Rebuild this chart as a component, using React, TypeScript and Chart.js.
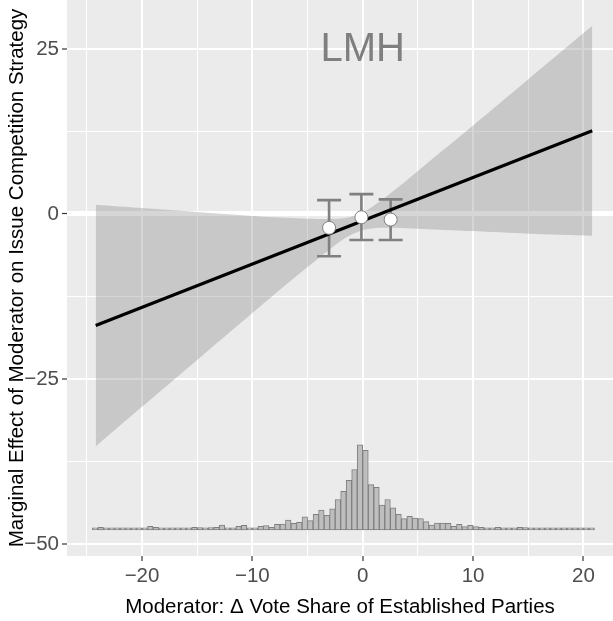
import React, { useEffect, useRef } from "react";
import { Chart, registerables } from "chart.js";

Chart.register(...registerables);

// Fitted marginal-effect line (linear estimator)
const lineX = [-24.2, 20.8];
const lineY = [-16.9, 12.6];

// Confidence band around the line
const bandX = [-24.2, -20, -15, -10, -6, -4, -2, -1, 0, 1, 2, 4, 6, 10, 15, 20.8];
const bandUpper = [1.4, 0.9, 0.3, -0.3, -0.65, -0.75, -0.7, -0.4, 0.25, 1.25, 2.45, 5.1, 7.9, 13.4, 20.4, 28.5];
const bandLower = [-35.2, -29.2, -22.1, -15.0, -9.4, -6.7, -4.1, -3.1, -2.45, -2.15, -2.1, -2.15, -2.3, -2.6, -3.0, -3.3];

// Binning estimates (L, M, H)
const binX = [-3.05, -0.12, 2.53];
const binY = [-2.1, -0.5, -0.85];
const binLow = [-6.4, -3.95, -3.95];
const binHigh = [2.1, 3.0, 2.2];

// Histogram of the moderator
const histStart = -24.5;
const histWidth = 0.5;
const histBase = -47.85;
const histHeights = [
  0.3, 0.4, 0.3, 0.3, 0.3, 0.3, 0.3, 0.3, 0.3, 0.3,
  0.55, 0.4, 0.3, 0.3, 0.3, 0.3, 0.3, 0.3, 0.4, 0.35,
  0.3, 0.35, 0.4, 0.75, 0.3, 0.3, 0.55, 0.7, 0.3, 0.3,
  0.55, 0.65, 0.4, 0.85, 0.9, 1.5, 1.0, 1.15, 2.0, 1.4,
  2.35, 3.0, 2.2, 3.2, 4.6, 5.85, 7.5, 9.15, 12.9, 12.05,
  6.85, 6.45, 3.75, 4.6, 3.35, 2.35, 1.7, 2.05, 1.8, 1.7,
  1.25, 0.75, 1.05, 1.05, 1.0, 0.55, 0.85, 0.5, 0.7, 0.5,
  0.4, 0.3, 0.3, 0.4, 0.3, 0.3, 0.3, 0.4, 0.35, 0.3,
  0.3, 0.3, 0.3, 0.3, 0.3, 0.3, 0.3, 0.3, 0.3, 0.3,
  0.3,
];

// Axes
const xMin = -26.8;
const xMax = 22.68;
const yMin = -51.8;
const yMax = 32.4;
const xStep = 5;
const xMajor = 10;
const yStep = 12.5;
const yMajor = 25;

const xTitle = "Moderator: \u0394 Vote Share of Established Parties";
const yTitle = "Marginal Effect of Moderator on Issue Competition Strategy";

const annotationText = "LMH";
const annotationX = 0;
const annotationY = 23.1;

const FONT = '"Liberation Sans", Arial, Helvetica, sans-serif';
const LINE_INDEX = 1;

const isMult = (v: number, m: number) => Math.abs(v / m - Math.round(v / m)) < 1e-6;
const fmt = (v: number) => (v < 0 ? "\u2212" + String(Math.abs(v)) : String(v));

const decorPlugin = {
  id: "decor",
  beforeDraw(chart: any) {
    const { ctx, chartArea: a } = chart;
    ctx.save();
    ctx.fillStyle = "#EBEBEB";
    ctx.fillRect(a.left, a.top, a.right - a.left, a.bottom - a.top);
    ctx.restore();
  },
  beforeDatasetDraw(chart: any, args: any) {
    if (args.index !== LINE_INDEX) return;
    const { ctx, scales } = chart;
    const xs = scales.x;
    const ys = scales.y;
    ctx.save();
    ctx.strokeStyle = "#808080";
    ctx.lineWidth = 2.6;
    ctx.lineCap = "butt";
    for (let i = 0; i < binX.length; i++) {
      const px = xs.getPixelForValue(binX[i]);
      const pLo = ys.getPixelForValue(binLow[i]);
      const pHi = ys.getPixelForValue(binHigh[i]);
      const half = 12;
      ctx.beginPath();
      ctx.moveTo(px, pLo);
      ctx.lineTo(px, pHi);
      ctx.moveTo(px - half, pLo);
      ctx.lineTo(px + half, pLo);
      ctx.moveTo(px - half, pHi);
      ctx.lineTo(px + half, pHi);
      ctx.stroke();
    }
    ctx.restore();
  },
  afterDatasetsDraw(chart: any) {
    const { ctx, scales } = chart;
    ctx.save();
    ctx.fillStyle = "#7F7F7F";
    ctx.font = `40px ${FONT}`;
    ctx.textAlign = "center";
    ctx.textBaseline = "alphabetic";
    ctx.fillText(
      annotationText,
      scales.x.getPixelForValue(annotationX),
      scales.y.getPixelForValue(annotationY)
    );
    ctx.restore();
  },
};

export default function App() {
  const ref = useRef<HTMLCanvasElement>(null);

  useEffect(() => {
    const histData = histHeights.map((h, i) => ({
      x: histStart + histWidth * (i + 0.5),
      y: [histBase, histBase + h],
    }));

    const chart = new Chart(ref.current as HTMLCanvasElement, {
      type: "bar",
      data: {
        datasets: [
          {
            type: "line",
            label: "bins",
            data: binX.map((x, i) => ({ x, y: binY[i] })),
            showLine: false,
            pointRadius: 6.5,
            pointBackgroundColor: "#FFFFFF",
            pointBorderColor: "#808080",
            pointBorderWidth: 1,
            order: 0,
          } as any,
          {
            type: "line",
            label: "line",
            data: lineX.map((x, i) => ({ x, y: lineY[i] })),
            borderColor: "#000000",
            borderWidth: 3.2,
            pointRadius: 0,
            fill: false,
            order: 1,
          } as any,
          {
            type: "line",
            label: "upper",
            data: bandX.map((x, i) => ({ x, y: bandUpper[i] })),
            borderWidth: 0,
            borderColor: "rgba(0,0,0,0)",
            pointRadius: 0,
            fill: false,
            tension: 0.3,
            order: 2,
          } as any,
          {
            type: "line",
            label: "lower",
            data: bandX.map((x, i) => ({ x, y: bandLower[i] })),
            borderWidth: 0,
            borderColor: "rgba(0,0,0,0)",
            backgroundColor: "rgba(127,127,127,0.32)",
            pointRadius: 0,
            fill: "-1",
            tension: 0.3,
            order: 2,
          } as any,
          {
            type: "bar",
            label: "hist",
            data: histData as any,
            backgroundColor: "#BEBEBE",
            borderColor: "#7F7F7F",
            borderWidth: 1,
            borderSkipped: false,
            barPercentage: 1,
            categoryPercentage: 1,
            order: 3,
          } as any,
        ],
      },
      options: {
        responsive: false,
        animation: false,
        devicePixelRatio: 1,
        events: [],
        layout: { padding: 0, autoPadding: false },
        plugins: {
          legend: { display: false },
          tooltip: { enabled: false },
          title: { display: false },
        },
        scales: {
          x: {
            type: "linear",
            min: xMin,
            max: xMax,
            offset: false,
            border: { display: false },
            grid: {
              offset: false,
              color: "#FFFFFF",
              lineWidth: (c: any) => (c.tick && isMult(c.tick.value, xMajor) ? 2 : 1),
              drawTicks: true,
              tickLength: 5,
              tickWidth: 1.2,
              tickColor: (c: any) =>
                c.tick && isMult(c.tick.value, xMajor) ? "#333333" : "rgba(0,0,0,0)",
            },
            ticks: {
              stepSize: xStep,
              autoSkip: false,
              maxRotation: 0,
              includeBounds: false,
              padding: 3,
              color: "#4D4D4D",
              font: { family: FONT, size: 20.5 },
              callback: (v: any) => (isMult(Number(v), xMajor) ? fmt(Number(v)) : ""),
            },
            title: {
              display: true,
              text: xTitle,
              color: "#000000",
              font: { family: FONT, size: 20.5 },
              padding: { top: 1, bottom: 1 },
            },
            afterFit: (s: any) => {
              s.height = 65;
              s.paddingLeft = 0;
              s.paddingRight = 0;
            },
          } as any,
          y: {
            type: "linear",
            min: yMin,
            max: yMax,
            border: { display: false },
            grid: {
              color: "#FFFFFF",
              lineWidth: (c: any) => {
                if (!c.tick) return 1;
                if (Math.abs(c.tick.value) < 1e-9) return 5;
                return isMult(c.tick.value, yMajor) ? 2 : 1;
              },
              drawTicks: true,
              tickLength: 5,
              tickWidth: 1.2,
              tickColor: (c: any) =>
                c.tick && isMult(c.tick.value, yMajor) ? "#333333" : "rgba(0,0,0,0)",
            },
            ticks: {
              stepSize: yStep,
              autoSkip: false,
              includeBounds: false,
              padding: 3,
              color: "#4D4D4D",
              font: { family: FONT, size: 20.5 },
              callback: (v: any) => (isMult(Number(v), yMajor) ? fmt(Number(v)) : ""),
            },
            title: {
              display: true,
              text: yTitle,
              color: "#000000",
              font: { family: FONT, size: 20.5 },
              padding: { top: 5, bottom: 5 },
            },
            afterFit: (s: any) => {
              s.width = 67;
              s.paddingTop = 0;
              s.paddingBottom = 0;
            },
          } as any,
        },
      },
      plugins: [decorPlugin],
    });
    return () => chart.destroy();
  }, []);

  return (
    <div
      style={{
        position: "fixed",
        left: 0,
        top: 0,
        width: 613,
        height: 621,
        background: "#FFFFFF",
      }}
    >
      <canvas
        ref={ref}
        width={613}
        height={621}
        style={{ display: "block", width: 613, height: 621 }}
      />
    </div>
  );
}
